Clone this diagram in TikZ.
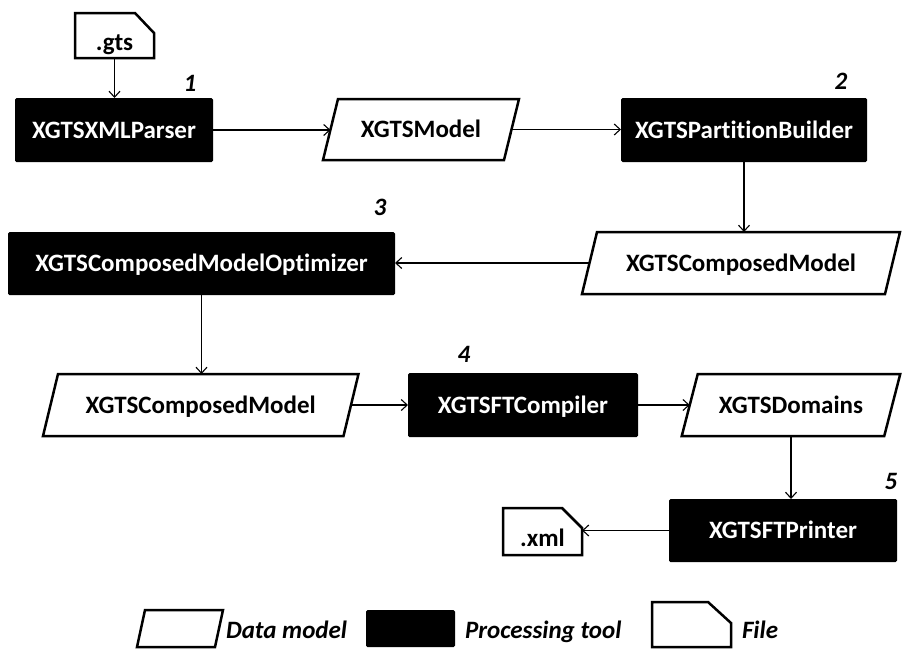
\documentclass[tikz,border=0pt]{standalone}
\usepackage{fontspec}
\setmainfont{Carlito}[Ligatures=NoCommon]
\usetikzlibrary{arrows.meta}
\tikzset{
  every node/.style={inner sep=0pt, outer sep=0pt, font=\fontsize{25}{29}\selectfont\bfseries},
  tool/.style={fill=black, text=white, rounded corners=1.5pt, text height=16pt, text depth=0pt},
  datamodel/.style={text height=16pt, text depth=0pt},
  filebox/.style={text height=29pt, text depth=0pt},
  shapeline/.style={line width=2.5pt, line join=miter},
  conn/.style={line width=1.1pt, -{Straight Barb[length=6pt,width=11pt,line width=1.1pt]}},
  num/.style={font=\fontsize{25}{29}\selectfont\bfseries\itshape, text height=16pt, text depth=0pt},
  legtext/.style={font=\fontsize{25}{29}\selectfont\bfseries\itshape, anchor=base west},
}
\newcommand\dmdraw[2]{\draw[shapeline] ([xshift=#2]#1.north west) -- ([xshift=#2]#1.north east) -- ([xshift=-#2]#1.south east) -- ([xshift=-#2]#1.south west) -- cycle;}
\newcommand\filedraw[3]{\draw[shapeline] (#1.south west) -- (#1.north west) -- ([xshift=-#2]#1.north east) -- ([yshift=-#3]#1.north east) -- (#1.south east) -- cycle;}
\begin{document}
\begin{tikzpicture}[x=1pt,y=-1pt]
\useasboundingbox[fill=white] (0,0) rectangle (902,649);

% row 1
\node[filebox, minimum width=79pt, minimum height=45pt] (gts) at (114.5,35.5) {.gts\hspace{12pt}};
\filedraw{gts}{19pt}{20pt}
\node[tool, minimum width=198pt, minimum height=64pt] (parser) at (114,130) {XGTSXMLParser};
\node[datamodel, minimum width=181pt, minimum height=61pt] (model) at (421,129.5) {XGTSModel};
\dmdraw{model}{7.5pt}
\node[tool, minimum width=246pt, minimum height=64pt] (partition) at (744,130) {XGTSPartitionBuilder};

% row 2
\node[datamodel, minimum width=303pt, minimum height=62pt] (cmr) at (741,263) {XGTSComposedModel};
\dmdraw{cmr}{7.5pt}
\node[tool, minimum width=387pt, minimum height=63pt] (opt) at (201.5,263.5) {XGTSComposedModelOptimizer};

% row 3
\node[datamodel, minimum width=300.5pt, minimum height=62pt] (cm2) at (200.75,405) {XGTSComposedModel};
\dmdraw{cm2}{7.5pt}
\node[tool, minimum width=230pt, minimum height=64pt] (comp) at (523,405) {XGTSFTCompiler};
\node[datamodel, minimum width=202.5pt, minimum height=62pt] (dom) at (791,405) {XGTSDomains};
\dmdraw{dom}{8pt}

% row 4
\node[tool, minimum width=228pt, minimum height=63pt] (printer) at (783,530.5) {XGTSFTPrinter};
\node[filebox, minimum width=79pt, minimum height=47pt] (xml) at (542.5,531.5) {.xml\hspace{7pt}};
\filedraw{xml}{20pt}{20pt}

% step numbers
\node[num] (n1) at (190,83) {1};
\node[num] (n2) at (841,81) {2};
\node[num] (n3) at (380,207) {3};
\node[num] (n4) at (464,354) {4};
\node[num] (n5) at (891,481) {5};

% connectors
\draw[conn] (gts.south) -- (gts.south |- parser.north);
\draw[conn] (parser.east) -- (parser.east -| model.west);
\draw[conn] (model.east) -- (model.east -| partition.west);
\draw[conn] (partition.south) -- (partition.south |- cmr.north);
\draw[conn] (cmr.west) -- (cmr.west -| opt.east);
\draw[conn] (opt.south) -- (opt.south |- cm2.north);
\draw[conn] (cm2.east) -- (cm2.east -| comp.west);
\draw[conn] (comp.east) -- (comp.east -| dom.west);
\draw[conn] (dom.south) -- (dom.south |- printer.north);
\draw[conn] (printer.west) -- (printer.west -| xml.east);

% legend
\node[minimum width=78pt, minimum height=37pt] (legdm) at (180,628.5) {};
\dmdraw{legdm}{4pt}
\node[legtext] (legdmt) at (226,638) {Data model};
\node[tool, minimum width=89pt, minimum height=37pt] (legpt) at (410.5,628.5) {};
\node[legtext] (legptt) at (465,638) {Processing tool};
\node[minimum width=79pt, minimum height=45pt] (legfile) at (691.5,624.5) {};
\filedraw{legfile}{23pt}{21pt}
\node[legtext] (legfilet) at (742,638) {File};
\end{tikzpicture}
\end{document}
